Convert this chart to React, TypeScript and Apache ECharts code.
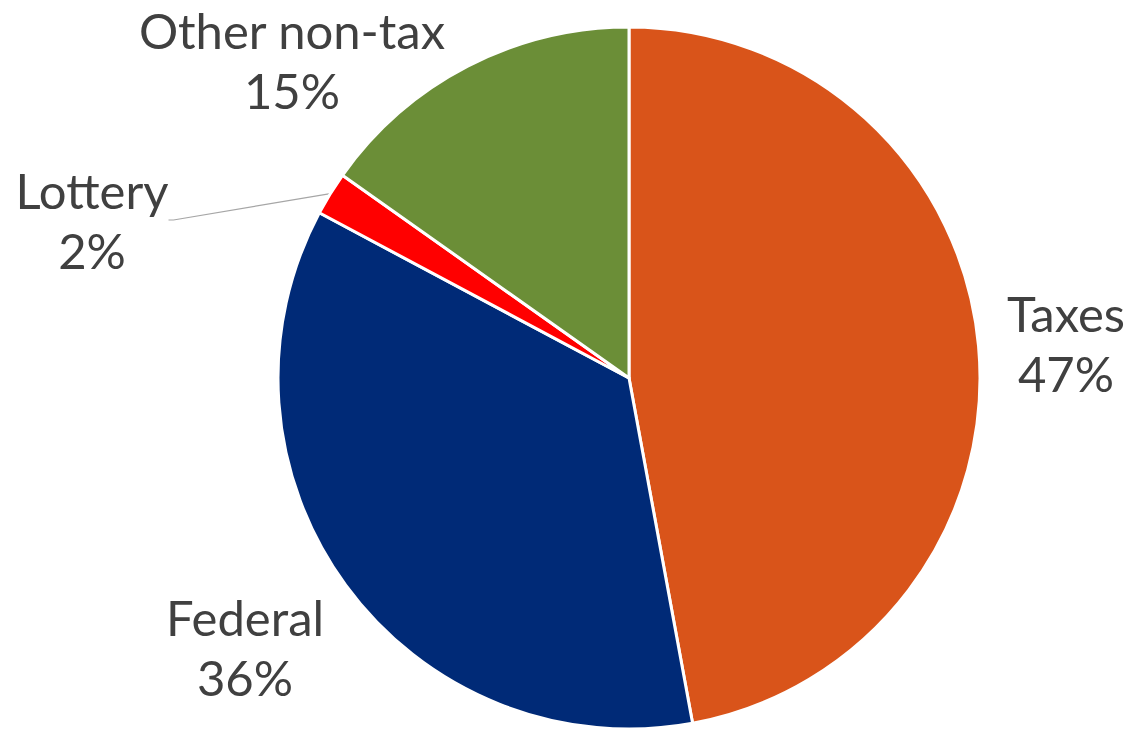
import React, { useEffect, useRef } from "react";
import * as echarts from "echarts";

const categories = ["Taxes", "Federal", "Lottery", "Other non-tax"];
const values = [47.1, 35.7, 2.0, 15.2];
const colors = ["#D9541A", "#002A77", "#FF0000", "#6B8E37"];
// label block centres (layout only)
const labelPos = [
  [1066, 343],
  [245, 647],
  [92, 220],
  [292, 60],
];

export default function App() {
  const ref = useRef<HTMLDivElement>(null);
  useEffect(() => {
    document.body.style.margin = "0";
    const chart = echarts.init(ref.current!, null, { renderer: "svg" });
    chart.setOption({
      animation: false,
      backgroundColor: "#ffffff",
      series: [
        {
          type: "pie",
          center: [629, 378],
          radius: 351,
          startAngle: 90,
          clockwise: true,
          percentPrecision: 0,
          avoidLabelOverlap: false,
          itemStyle: { borderColor: "#ffffff", borderWidth: 3 },
          label: {
            show: true,
            position: "outside",
            formatter: "{b}\n{d}%",
            color: "#404040",
            fontFamily: "Lato",
            fontSize: 49,
            lineHeight: 60,
            align: "center",
          },
          labelLine: { show: false },
          labelLayout: (p: any) => ({
            x: labelPos[p.dataIndex][0],
            y: labelPos[p.dataIndex][1],
            align: "center",
            verticalAlign: "middle",
          }),
          data: categories.map((c, i) => ({
            name: c,
            value: values[i],
            itemStyle: { color: colors[i] },
            labelLine:
              c === "Lottery"
                ? { show: true, length: 5, length2: 5, lineStyle: { color: "#A6A6A6", width: 1.2 } }
                : { show: false },
          })),
        },
      ],
    });
    return () => chart.dispose();
  }, []);
  return <div ref={ref} style={{ position: "absolute", left: 0, top: 0, width: 1130, height: 729 }} />;
}
